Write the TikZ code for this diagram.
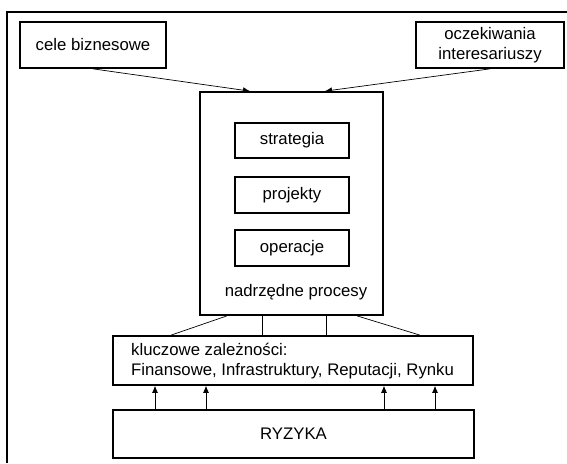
\documentclass[tikz,border=0pt]{standalone}
\usepackage{fontspec}
\setmainfont{Liberation Sans}
\usetikzlibrary{arrows.meta}
\begin{document}
\begin{tikzpicture}[x=1pt,y=-1pt,
  box/.style={draw,line width=1.7pt,rectangle,inner sep=0pt,font=\fontsize{16.75}{20}\selectfont,align=center},
  conn/.style={line width=0.7pt},
  arr/.style={conn,-{Latex[length=7pt,width=6pt]}},
  lbl/.style={inner sep=0pt,font=\fontsize{16.75}{20}\selectfont}]
\useasboundingbox (0,0) rectangle (567,463);
\draw[line width=2.2pt] (7,463) -- (7,12) -- (567,12);
\node[box,minimum width=146pt,minimum height=46pt] (cele) at (93,45) {cele biznesowe};
\node[box,minimum width=148pt,minimum height=46pt] (ocz) at (490,45) {oczekiwania\\interesariuszy};
\node[box,minimum width=183pt,minimum height=223pt] (main) at (291.5,203.5) {};
\node[box,minimum width=114pt,minimum height=35pt] (str) at (292,140.5) {strategia};
\node[box,minimum width=114pt,minimum height=36pt] (proj) at (292,195) {projekty};
\node[box,minimum width=114pt,minimum height=36pt] (oper) at (292,248) {operacje};
\node[lbl] (nadr) at (296,292) {nadrzędne procesy};
\node[box,minimum width=360pt,minimum height=49pt] (kl) at (293,360.5) {};
\node[lbl,anchor=west,align=left] (kltxt) at (131,361) {kluczowe zależności:\\Finansowe, Infrastruktury, Reputacji, Rynku};
\node[box,minimum width=361pt,minimum height=48pt] (ryz) at (293.5,434) {RYZYKA};
\draw[arr] ([xshift=0pt]cele.south) -- ([xshift=-41.5pt]main.north);
\draw[arr] ([xshift=0pt]ocz.south) -- ([xshift=33.5pt]main.north);
\draw[conn] ([xshift=-64.5pt]main.south) -- ([xshift=-122pt]kl.north);
\draw[conn] ([xshift=-29.5pt]main.south) -- ([xshift=-31pt]kl.north);
\draw[conn] ([xshift=34.5pt]main.south) -- ([xshift=33pt]kl.north);
\draw[conn] ([xshift=65.5pt]main.south) -- ([xshift=127pt]kl.north);
\draw[arr] ([xshift=-138.5pt]ryz.north) -- ([xshift=-138pt]kl.south);
\draw[arr] ([xshift=-87.5pt]ryz.north) -- ([xshift=-87pt]kl.south);
\draw[arr] ([xshift=90.5pt]ryz.north) -- ([xshift=91pt]kl.south);
\draw[arr] ([xshift=141.5pt]ryz.north) -- ([xshift=142pt]kl.south);
\end{tikzpicture}
\end{document}
